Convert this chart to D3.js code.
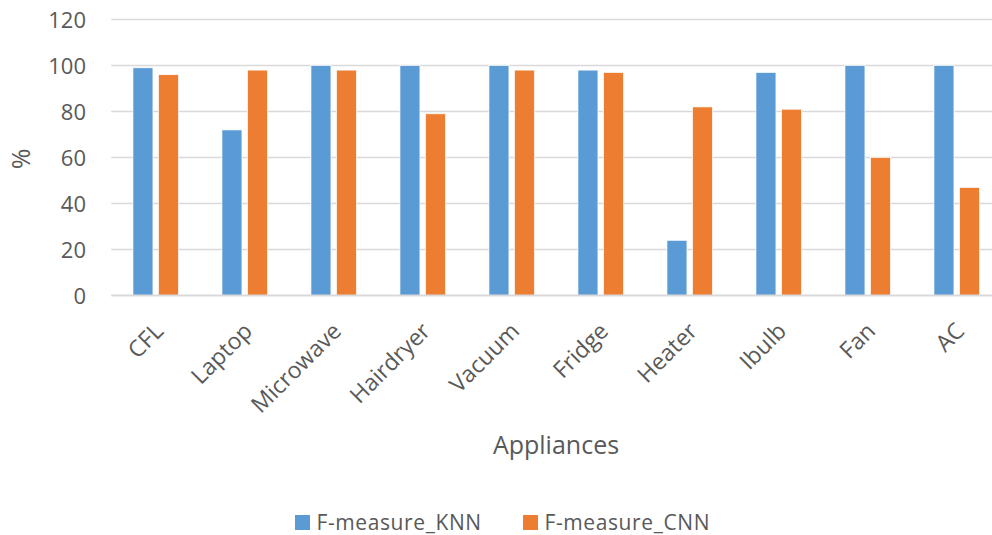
<!DOCTYPE html>
<html>
<head>
<meta charset="utf-8">
<script src="https://cdn.jsdelivr.net/npm/d3@7"></script>
<style>
  html, body { margin: 0; padding: 0; background: #fff; overflow: hidden; }
  svg text { font-family: "Open Sans", "Noto Sans", sans-serif; fill: #595959; }
</style>
</head>
<body>
<svg id="chart" width="992" height="535"></svg>
<script>
// F-measure per appliance for the two classifiers
const categories = ["CFL", "Laptop", "Microwave", "Hairdryer", "Vacuum", "Fridge", "Heater", "Ibulb", "Fan", "AC"];
const knnValues = [99, 72, 100, 100, 100, 98, 24, 97, 100, 100];
const cnnValues = [96, 98, 98, 79, 98, 97, 82, 81, 60, 47];
const seriesNames = ["F-measure_KNN", "F-measure_CNN"];
const seriesColors = ["#5B9BD5", "#ED7D31"];
const yTicks = [0, 20, 40, 60, 80, 100, 120];

const svg = d3.select("#chart");
// plot area runs past the right edge of the 992px canvas
const plot = { left: 111.2, right: 1001.2, top: 19.5, bottom: 295.5 };

const x = d3.scaleBand().domain(categories).range([plot.left, plot.right]);
const barW = 20, gap = 5.5;
const y = d3.scaleLinear().domain([0, 120]).range([plot.bottom, plot.top]);

// horizontal gridlines
svg.append("g")
  .selectAll("line")
  .data(yTicks.filter(d => d > 0))
  .join("line")
  .attr("x1", plot.left).attr("x2", plot.right)
  .attr("y1", d => y(d)).attr("y2", d => y(d))
  .attr("stroke", "#D9D9D9").attr("stroke-width", 1.5);

// y-axis tick labels
const yAxis = d3.axisLeft(y).tickValues(yTicks).tickSize(0).tickPadding(0);
const gy = svg.append("g").attr("transform", "translate(86,0)").call(yAxis);
gy.select(".domain").remove();
gy.selectAll("text")
  .style("font-size", "22px")
  .attr("fill", "#595959")
  .attr("dy", "0.36em");

// bars
const series = [knnValues, cnnValues];
series.forEach((vals, si) => {
  svg.append("g")
    .selectAll("rect")
    .data(categories.map((c, i) => ({ c, v: vals[i] })))
    .join("rect")
    .attr("x", d => x(d.c) + x.bandwidth() / 2 + (si === 0 ? -(barW + gap / 2) : gap / 2))
    .attr("y", d => y(d.v))
    .attr("width", barW)
    .attr("height", d => y(0) - y(d.v))
    .attr("fill", seriesColors[si])
    .attr("stroke", "#fff").attr("stroke-width", 0.7);
});

// baseline
svg.append("line")
  .attr("x1", plot.left).attr("x2", plot.right)
  .attr("y1", y(0)).attr("y2", y(0))
  .attr("stroke", "#D9D9D9").attr("stroke-width", 2);

// x-axis category labels, rotated
const xAxis = d3.axisBottom(x).tickSize(0).tickPadding(0);
const gx = svg.append("g").attr("transform", `translate(0,${plot.bottom})`).call(xAxis);
gx.select(".domain").remove();
gx.selectAll("text")
  .style("font-size", "23px")
  .attr("fill", "#595959")
  .attr("text-anchor", "end")
  .attr("y", 0)
  .attr("dy", 0)
  .attr("transform", "translate(9,37) rotate(-45)");

// axis titles
svg.append("text")
  .attr("transform", "translate(30,159) rotate(-90)")
  .attr("text-anchor", "middle")
  .style("font-size", "25px")
  .text("%");

svg.append("text")
  .attr("x", 556).attr("y", 453.5)
  .attr("text-anchor", "middle")
  .style("font-size", "25px")
  .text("Appliances");

// legend
const legendX = [295, 523];
const lg = svg.append("g");
seriesNames.forEach((name, i) => {
  lg.append("rect")
    .attr("x", legendX[i]).attr("y", 515)
    .attr("width", 15).attr("height", 15)
    .attr("fill", seriesColors[i]);
  lg.append("text")
    .attr("x", legendX[i] + 21.5).attr("y", 529.5)
    .style("font-size", "21px")
    .style("letter-spacing", "0.6px")
    .text(name);
});
</script>
</body>
</html>
